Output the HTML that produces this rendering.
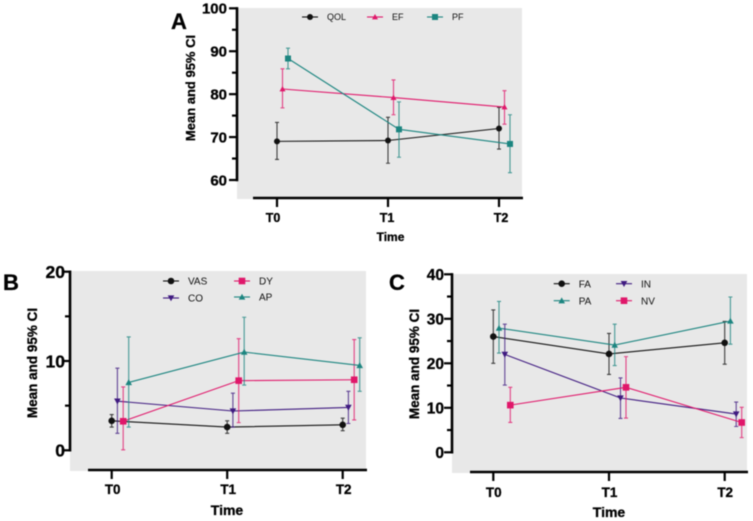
<!DOCTYPE html>
<html lang="en">
<head>
<meta charset="utf-8">
<title>Mean and 95% CI panels</title>
<style>
html,body{margin:0;padding:0;background:#fff;width:753px;height:521px;overflow:hidden}
svg{display:block;filter:blur(0.45px)}
text{font-family:"Liberation Sans",Arial,sans-serif}
text[font-weight="700"]{stroke:#000;stroke-width:0.3px}
</style>
</head>
<body>
<svg id="figure" xmlns="http://www.w3.org/2000/svg" width="753" height="521" viewBox="0 0 753 521"></svg>
<script>
// ---- Shared categories ----
const categories = ['T0', 'T1', 'T2'];

// ---- Panel A values ----
const aTicks = [60, 70, 80, 90, 100];
const aQolMean = [69, 69.2, 72];
const aQolLow = [64.8, 63.9, 67.2];
const aQolHigh = [73.4, 74.6, 76.9];
const aEfMean = [81.2, 79.2, 77];
const aEfLow = [76.8, 75.2, 73];
const aEfHigh = [85.9, 83.3, 80.8];
const aPfMean = [88.3, 71.8, 68.4];
const aPfLow = [85.9, 65.3, 61.7];
const aPfHigh = [90.7, 78.2, 75.2];

// ---- Panel B values ----
const bTicks = [0, 10, 20];
const bVasMean = [3.3, 2.6, 2.85];
const bVasLow = [2.6, 1.9, 2.2];
const bVasHigh = [4.0, 3.3, 3.6];
const bCoMean = [5.5, 4.4, 4.8];
const bCoLow = [1.9, 2.6, 3.0];
const bCoHigh = [9.2, 6.4, 6.6];
const bDyMean = [3.25, 7.8, 7.9];
const bDyLow = [0.05, 3.1, 3.4];
const bDyHigh = [7.1, 12.5, 12.4];
const bApMean = [7.6, 11, 9.5];
const bApLow = [2.6, 7.3, 6.6];
const bApHigh = [12.7, 14.9, 12.6];

// ---- Panel C values ----
const cTicks = [0, 10, 20, 30, 40];
const cFaMean = [26, 22.1, 24.6];
const cFaLow = [20, 17.5, 19.8];
const cFaHigh = [32, 26.7, 29.4];
const cPaMean = [27.9, 24.1, 29.5];
const cPaLow = [22.3, 19.5, 24.3];
const cPaHigh = [33.9, 28.8, 34.9];
const cInMean = [22, 12.2, 8.6];
const cInLow = [15.1, 7.6, 5.8];
const cInHigh = [28.8, 16.7, 11.3];
const cNvMean = [10.6, 14.6, 6.7];
const cNvLow = [6.7, 7.7, 3.3];
const cNvHigh = [14.6, 21.5, 10.1];

const BLACK = '#111111', PINK = '#e0176a', TEAL = '#1c8580', PURPLE = '#3f1a80';
const svg = document.getElementById('figure');
const NS = 'http://www.w3.org/2000/svg';

function make(parent, tag, attrs, content) {
  const n = document.createElementNS(NS, tag);
  for (const k in attrs) n.setAttribute(k, attrs[k]);
  if (content !== undefined) n.textContent = content;
  parent.appendChild(n);
  return n;
}

function drawMarker(parent, shape, cx, cy, color, s) {
  let n;
  if (shape === 'circle') {
    n = make(parent, 'circle', {cx: cx, cy: cy, r: s, fill: color});
  } else if (shape === 'square') {
    n = make(parent, 'rect', {x: cx - s, y: cy - s, width: 2 * s, height: 2 * s, fill: color});
  } else if (shape === 'up') {
    n = make(parent, 'polygon', {points: (cx) + ',' + (cy - s) + ' ' + (cx - s) + ',' + (cy + s * 0.8) + ' ' + (cx + s) + ',' + (cy + s * 0.8), fill: color});
  } else {
    n = make(parent, 'polygon', {points: (cx) + ',' + (cy + s) + ' ' + (cx - s) + ',' + (cy - s * 0.8) + ' ' + (cx + s) + ',' + (cy - s * 0.8), fill: color});
  }
  
  
  return n;
}

function drawPanel(p) {
  const g = make(svg, 'g', {});
  
  

  const yOf = function (v) { return p.y0 + (v - p.vMin) * (p.y1 - p.y0) / (p.vMax - p.vMin); };
  const xOf = function (i, off) { return p.x0 + i * p.dx + (off || 0); };

  const bg = make(g, 'rect', {x: p.left, y: p.top, width: p.right - p.left, height: p.bottom - p.top, fill: '#e8e8e8'});
  
  

  // y axis
  const yAxis = make(g, 'line', {x1: p.left, x2: p.left, y1: yOf(p.vMax) - 1.2, y2: yOf(p.vMin) + 1.2, stroke: '#000', 'stroke-width': 2.6});
  
  
  for (let t = 0; t < p.ticks.length; t++) {
    const v = p.ticks[t];
    const tick = make(g, 'line', {x1: p.left - 8, x2: p.left, y1: yOf(v), y2: yOf(v), stroke: '#000', 'stroke-width': 2.2});
    
    
    const lab = make(g, 'text', {x: p.left - p.yLabelGap, y: yOf(v) + p.yFont * 0.36, 'text-anchor': 'end', 'font-size': p.yFont, 'font-weight': 700, fill: '#000'}, String(v));
    
    
    if (t < p.ticks.length - 1) {
      const mid = (v + p.ticks[t + 1]) / 2;
      const minor = make(g, 'line', {x1: p.left - 5, x2: p.left, y1: yOf(mid), y2: yOf(mid), stroke: '#000', 'stroke-width': 2.2});
      
      
    }
  }

  // x axis
  const xAxis = make(g, 'line', {x1: p.axisStart, x2: p.right + 1, y1: p.bottom - 1, y2: p.bottom - 1, stroke: '#000', 'stroke-width': 2.4});
  
  
  categories.forEach(function (c, i) {
    const tick = make(g, 'line', {x1: xOf(i), x2: xOf(i), y1: p.bottom - 1, y2: p.bottom + 8, stroke: '#000', 'stroke-width': 2.2});
    
    
    const lab = make(g, 'text', {x: xOf(i) + p.xNudge * (i - 1) + p.xShift, y: p.xLabelY, 'text-anchor': 'middle', 'font-size': p.xFont, 'font-weight': 700, fill: '#000'}, c);
    
    
  });

  const xTitle = make(g, 'text', {x: p.xTitleX, y: p.xTitleY, 'text-anchor': 'middle', 'font-size': p.xTitleFont, 'font-weight': 700, fill: '#000'}, 'Time');
  
  

  const yTitle = make(g, 'text', {x: 0, y: 0, transform: 'translate(' + p.yTitleX + ' ' + p.yTitleY + ') rotate(-90)', 'text-anchor': 'middle', 'font-size': p.yTitleFont, 'font-weight': 700, fill: '#000'}, 'Mean and 95% CI');
  
  

  const letter = make(g, 'text', {x: p.letterX, y: p.letterY, 'font-size': 22, 'font-weight': 700, fill: '#000'}, p.id);
  
  

  // series
  p.series.forEach(function (s) {
    const sg = make(g, 'g', {});
    
    
    const pts = s.mean.map(function (v, i) { return xOf(i, s.off) + ',' + yOf(v); }).join(' ');
    const line = make(sg, 'polyline', {points: pts, fill: 'none', stroke: s.color, 'stroke-width': 1.1});
    
    
    s.mean.forEach(function (v, i) {
      const x = xOf(i, s.off);
      const yl = yOf(s.low[i]), yh = yOf(s.high[i]);
      const bar = make(sg, 'path', {d: 'M' + x + ' ' + yl + 'V' + yh + 'M' + (x - 2) + ' ' + yl + 'H' + (x + 2) + 'M' + (x - 2) + ' ' + yh + 'H' + (x + 2), fill: 'none', stroke: s.color, 'stroke-width': 1.1, opacity: 0.8});
      
      
      drawMarker(sg, s.shape, x, yOf(v), s.color, p.markerSize);
    });

    const lg = make(g, 'g', {});
    
    
    const ll = make(lg, 'line', {x1: s.lx - 8, x2: s.lx + 8, y1: s.ly, y2: s.ly, stroke: s.color, 'stroke-width': 1.1});
    
    
    drawMarker(lg, s.shape, s.lx, s.ly, s.color, p.markerSize);
    const lt = make(lg, 'text', {x: s.lx + p.legendGap, y: s.ly + p.legendFont * 0.36, 'font-size': p.legendFont, fill: '#111'}, s.name);
    
    
  });
}

drawPanel({
  id: 'A', left: 237, right: 522, top: 8, bottom: 199, axisStart: 253,
  vMin: 60, vMax: 100, y0: 180, y1: 8.3, x0: 277, dx: 111, ticks: aTicks,
  yFont: 15, yLabelGap: 10, xFont: 12.5, xNudge: 3, xShift: -1, xLabelY: 222,
  xTitleX: 390.5, xTitleY: 241, xTitleFont: 12, yTitleX: 195, yTitleY: 88, yTitleFont: 13,
  letterX: 171, letterY: 29, markerSize: 3, legendGap: 17, legendFont: 9,
  series: [
    {name: 'QOL', color: BLACK, shape: 'circle', mean: aQolMean, low: aQolLow, high: aQolHigh, off: 0, lx: 310, ly: 17},
    {name: 'EF', color: PINK, shape: 'up', mean: aEfMean, low: aEfLow, high: aEfHigh, off: 5.5, lx: 375, ly: 17},
    {name: 'PF', color: TEAL, shape: 'square', mean: aPfMean, low: aPfLow, high: aPfHigh, off: 11, lx: 435, ly: 17}
  ]
});

drawPanel({
  id: 'B', left: 70, right: 366, top: 271, bottom: 471, axisStart: 88,
  vMin: 0, vMax: 20, y0: 450.3, y1: 271.7, x0: 111.7, dx: 115.5, ticks: bTicks,
  yFont: 17.5, yLabelGap: 5, xFont: 13.5, xNudge: 0, xShift: 1, xLabelY: 494,
  xTitleX: 227, xTitleY: 515, xTitleFont: 14, yTitleX: 37, yTitleY: 363, yTitleFont: 13.5,
  letterX: 3, letterY: 290, markerSize: 3.3, legendGap: 17, legendFont: 10,
  series: [
    {name: 'VAS', color: BLACK, shape: 'circle', mean: bVasMean, low: bVasLow, high: bVasHigh, off: 0, lx: 171, ly: 281},
    {name: 'CO', color: PURPLE, shape: 'down', mean: bCoMean, low: bCoLow, high: bCoHigh, off: 5.7, lx: 171, ly: 298},
    {name: 'DY', color: PINK, shape: 'square', mean: bDyMean, low: bDyLow, high: bDyHigh, off: 11.5, lx: 242, ly: 281},
    {name: 'AP', color: TEAL, shape: 'up', mean: bApMean, low: bApLow, high: bApHigh, off: 17, lx: 242, ly: 297}
  ]
});

drawPanel({
  id: 'C', left: 452, right: 747, top: 274, bottom: 473, axisStart: 470,
  vMin: 0, vMax: 40, y0: 452.3, y1: 274.3, x0: 493.3, dx: 115.7, ticks: cTicks,
  yFont: 15.5, yLabelGap: 8, xFont: 13.5, xNudge: 0, xShift: 0.5, xLabelY: 497,
  xTitleX: 609, xTitleY: 517, xTitleFont: 14, yTitleX: 419, yTitleY: 364, yTitleFont: 13.5,
  letterX: 389, letterY: 290, markerSize: 3.3, legendGap: 17, legendFont: 10,
  series: [
    {name: 'FA', color: BLACK, shape: 'circle', mean: cFaMean, low: cFaLow, high: cFaHigh, off: 0, lx: 561.7, ly: 283.7},
    {name: 'PA', color: TEAL, shape: 'up', mean: cPaMean, low: cPaLow, high: cPaHigh, off: 5.7, lx: 561.7, ly: 300.7},
    {name: 'IN', color: PURPLE, shape: 'down', mean: cInMean, low: cInLow, high: cInHigh, off: 11.5, lx: 624, ly: 283.7},
    {name: 'NV', color: PINK, shape: 'square', mean: cNvMean, low: cNvLow, high: cNvHigh, off: 17, lx: 624, ly: 300.7}
  ]
});
</script>
</body>
</html>
